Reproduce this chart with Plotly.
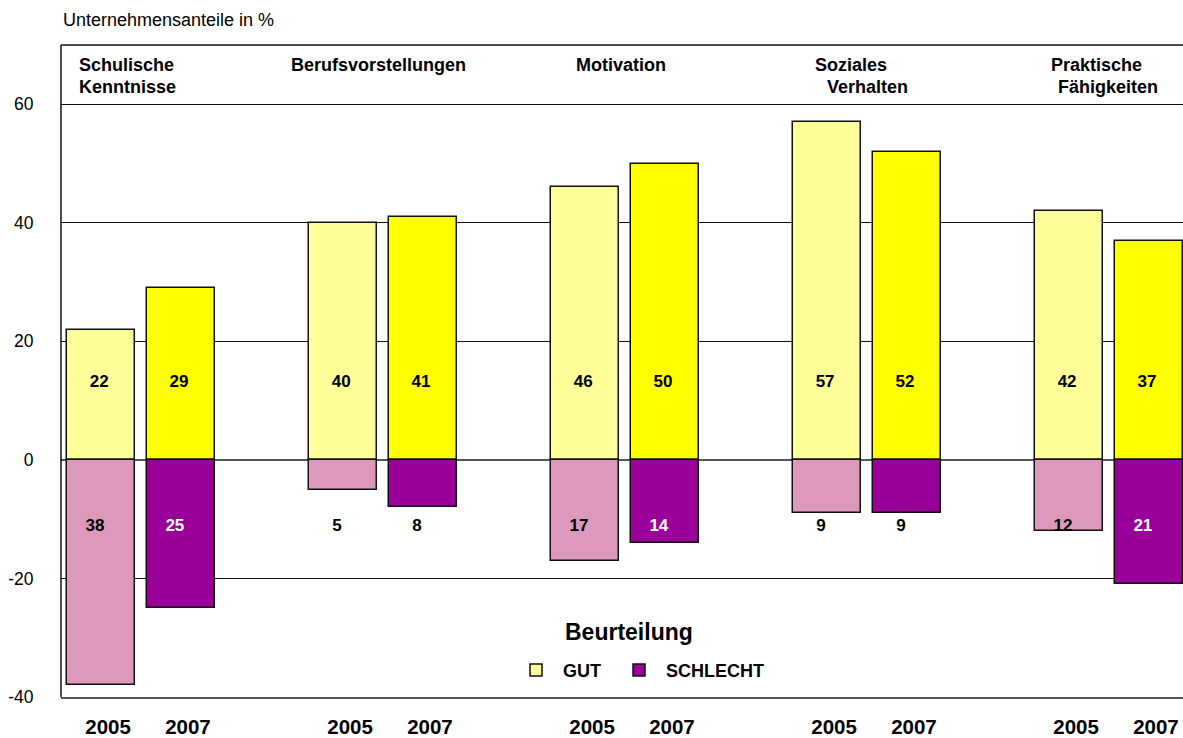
import plotly.graph_objects as go

kategorien = ['Schulische Kenntnisse', 'Berufsvorstellungen', 'Motivation',
              'Soziales Verhalten', 'Praktische Fähigkeiten']
jahre = ['2005', '2007']
gut_2005 = [22, 40, 46, 57, 42]
gut_2007 = [29, 41, 50, 52, 37]
schlecht_2005 = [38, 5, 17, 9, 12]
schlecht_2007 = [25, 8, 14, 9, 21]
y_ticks = [-40, -20, 0, 20, 40, 60]

FONT = 'Liberation Sans, Arial, sans-serif'
farben = {'gut_2005': '#FFFF99', 'gut_2007': '#FFFF00',
          'schlecht_2005': '#DD99BB', 'schlecht_2007': '#990099'}

pos = list(range(len(kategorien)))
versatz = 0.165
breite = 0.281
x05 = [p - versatz for p in pos]
x07 = [p + versatz for p in pos]

fig = go.Figure()


def balken(x, y, farbe, name, legende, legend_id='legend'):
    fig.add_trace(go.Bar(
        x=x, y=y, width=breite, name=name, showlegend=legende, legend=legend_id,
        marker=dict(color=farbe, line=dict(color='#111111', width=1.5)),
        hoverinfo='skip'
    ))


balken(x05, gut_2005, farben['gut_2005'], 'GUT', True)
balken(x07, gut_2007, farben['gut_2007'], 'GUT 2007', False)
balken(x05, [-v for v in schlecht_2005], farben['schlecht_2005'], 'SCHLECHT 2005', False)
balken(x07, [-v for v in schlecht_2007], farben['schlecht_2007'], 'SCHLECHT', True, 'legend2')

# Wertebeschriftungen
label_oben = 13
label_unten = -11.3
fig.add_trace(go.Scatter(
    x=[x - 0.008 for x in x05 + x07], y=[label_oben] * (len(pos) * 2),
    text=[str(v) for v in gut_2005 + gut_2007], mode='text',
    textfont=dict(family=FONT, size=17, color='black', weight='bold'),
    showlegend=False, hoverinfo='skip'
))
farbe_unten = ['black'] * len(pos) + ['white' if v > 12 else 'black' for v in schlecht_2007]
fig.add_trace(go.Scatter(
    x=[x - 0.025 for x in x05 + x07], y=[label_unten] * (len(pos) * 2),
    text=[str(v) for v in schlecht_2005 + schlecht_2007], mode='text',
    textfont=dict(family=FONT, size=17, color=farbe_unten, weight='bold'),
    showlegend=False, hoverinfo='skip'
))

# Kategorietitel im oberen Band
titel = [
    ('Schulische', -0.265, 66.6), ('Kenntnisse', -0.265, 62.9),
    ('Berufsvorstellungen', 0.612, 66.6),
    ('Motivation', 1.789, 66.6),
    ('Soziales', 2.777, 66.6), ('Verhalten', 2.826, 62.9),
    ('Praktische', 3.752, 66.6), ('Fähigkeiten', 3.781, 62.9),
]
for text, x, y in titel:
    fig.add_annotation(x=x, y=y, text='<b>%s</b>' % text, showarrow=False,
                       xanchor='left', yanchor='middle',
                       font=dict(family=FONT, size=18, color='black'))

fig.add_annotation(x=0, y=1.0, xref='paper', yref='paper', yshift=25,
                   text='Unternehmensanteile in %', showarrow=False,
                   xanchor='left', yanchor='middle',
                   font=dict(family=FONT, size=18, color='black'))

# Legendentitel
fig.add_annotation(x=0.5066, y=0.1, xref='paper', yref='paper',
                   text='<b>Beurteilung</b>', showarrow=False,
                   xanchor='center', yanchor='middle',
                   font=dict(family=FONT, size=23, color='black'))

# Rahmen links und oben
fig.add_shape(type='line', xref='paper', yref='paper', x0=0, x1=0, y0=0, y1=1,
              line=dict(color='#111111', width=1.5))
fig.add_shape(type='line', xref='paper', yref='paper', x0=0, x1=1, y0=1, y1=1,
              line=dict(color='#111111', width=1.5))

legende_stil = dict(
    orientation='h', xanchor='left', y=0.041, yanchor='middle',
    font=dict(family=FONT, size=18, color='black', weight='bold'),
    bgcolor='rgba(0,0,0,0)', itemwidth=44
)

fig.update_layout(
    width=1183, height=738,
    margin=dict(l=61, r=0, t=45, b=41),
    paper_bgcolor='white', plot_bgcolor='white',
    barmode='overlay', bargap=0,
    font=dict(family=FONT, size=17, color='black'),
    legend=dict(x=0.3993, **legende_stil),
    legend2=dict(x=0.4911, **legende_stil),
    xaxis=dict(
        range=[-0.3306, 4.3058], tickvals=[x + 0.029 for x in x05 + x07],
        ticktext=['<b>%s</b>' % jahre[0]] * len(pos) + ['<b>%s</b>' % jahre[1]] * len(pos),
        tickfont=dict(family=FONT, size=20.5, color='black'),
        ticks='outside', ticklen=11, tickcolor='rgba(0,0,0,0)',
        showgrid=False, zeroline=False,
        showline=True, linecolor='#555555', linewidth=1.5
    ),
    yaxis=dict(
        range=[-40, 70], tickvals=y_ticks, ticktext=[str(v) for v in y_ticks],
        tickfont=dict(family=FONT, size=17.5, color='black'),
        ticks='outside', ticklen=23, tickcolor='rgba(0,0,0,0)',
        showgrid=True, gridcolor='#111111', gridwidth=1,
        zeroline=True, zerolinecolor='#555555', zerolinewidth=2
    ),
)

fig.write_html('out.html', config={'displayModeBar': False},
               post_script="document.body.style.margin='0';document.body.style.overflow='hidden';")
